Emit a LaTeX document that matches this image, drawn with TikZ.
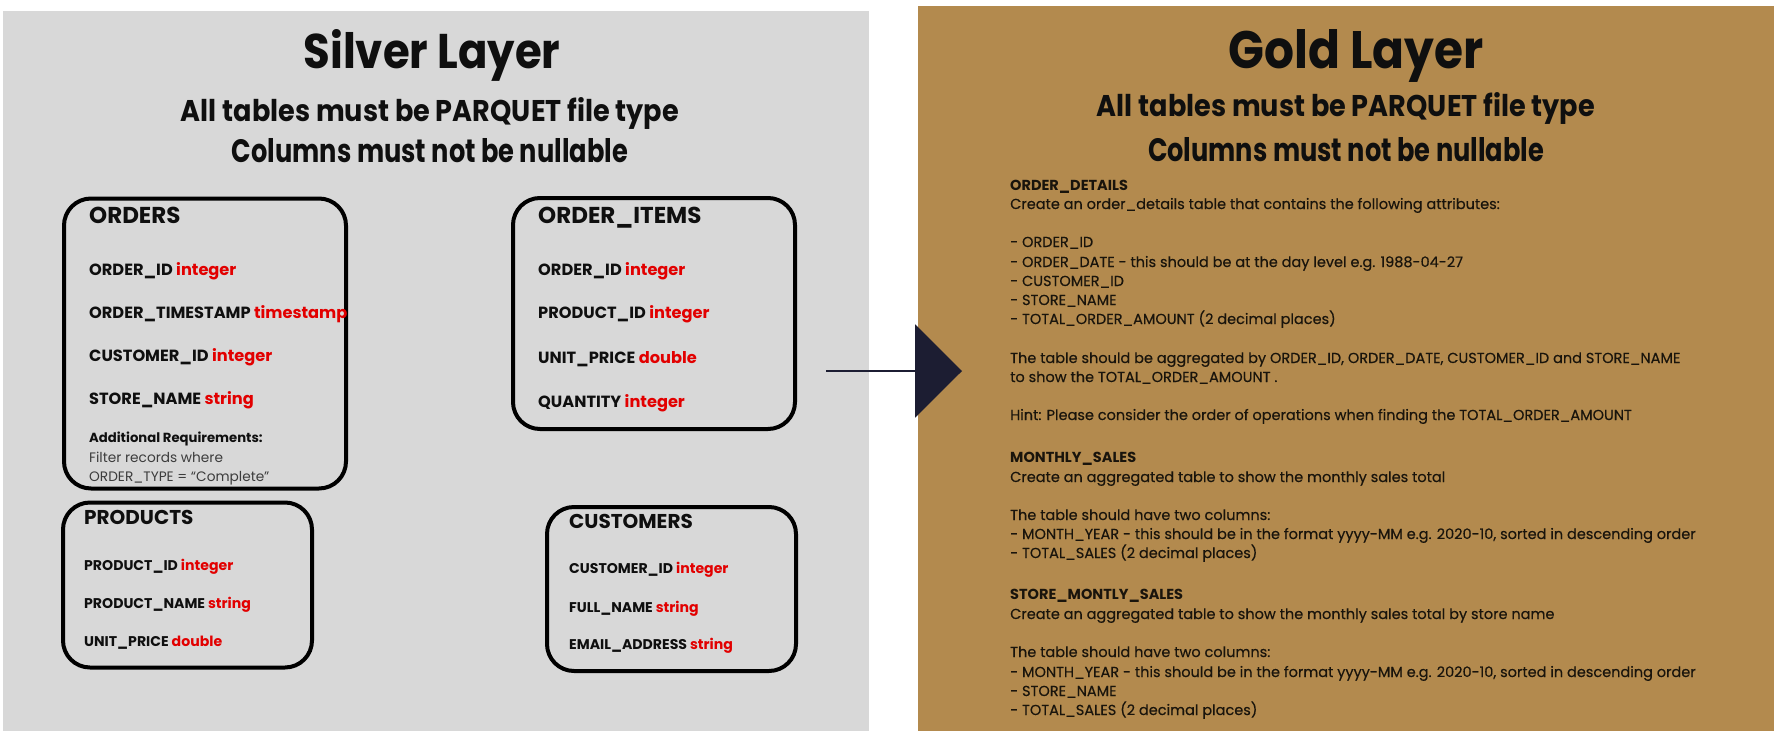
\documentclass[tikz,border=0pt]{standalone}
\usepackage{graphicx}
\usepackage{fontspec}
\setmainfont{Poppins}
\newfontfamily\gfont{Poppins}[FakeBold=0.35]
\usetikzlibrary{arrows.meta}
\definecolor{silverbg}{RGB}{216,216,216}
\definecolor{goldbg}{RGB}{179,138,78}
\definecolor{typered}{RGB}{226,0,0}
\definecolor{arrowblue}{RGB}{28,29,50}
\definecolor{ink}{RGB}{15,15,15}
\definecolor{noteink}{RGB}{60,60,60}
\definecolor{goldink}{RGB}{25,20,12}
\newcommand{\ty}[1]{\textcolor{typered}{#1}}
\begin{document}
\begin{tikzpicture}[x=1pt,y=-1pt,
  tbl/.style={draw=black,line width=4pt,rounded corners=27pt,inner sep=0pt},
  txt/.style={anchor=base west,inner sep=0pt,text=ink},
  thead/.style={txt,font=\bfseries\fontsize{23}{28}\selectfont},
  tfield/.style={txt,font=\bfseries\fontsize{16.2}{20}\selectfont},
  shead/.style={txt,font=\bfseries\fontsize{20}{24}\selectfont},
  sfield/.style={txt,font=\bfseries\fontsize{14.1}{18}\selectfont},
  notehead/.style={txt,font=\bfseries\fontsize{13.2}{17}\selectfont},
  note/.style={txt,text=noteink,font=\fontsize{13.7}{18}\selectfont},
  ghead/.style={txt,text=goldink,font=\bfseries\fontsize{14.5}{17}\selectfont},
  gtxt/.style={txt,text=goldink,font=\gfont\fontsize{14.5}{17}\selectfont},
  ttl/.style={anchor=base,inner sep=0pt,text=ink}]
\useasboundingbox (0,0) rectangle (1774,731);
\fill[white] (0,0) rectangle (1774,731);
% panels
\fill[silverbg] (3,11) rectangle (869,731);
\fill[goldbg] (918,6) rectangle (1774,731);
% silver titles
\node[ttl] (stitle) at (432,68) {\resizebox{257pt}{39pt}{\bfseries Silver Layer}};
\node[ttl] (ssub1) at (430,121) {\resizebox{498pt}{24pt}{\bfseries All tables must be PARQUET file type}};
\node[ttl] (ssub2) at (430,162) {\resizebox{396pt}{24pt}{\bfseries Columns must not be nullable}};
% gold titles
\node[ttl] (gtitle) at (1356,68) {\resizebox{255pt}{39pt}{\bfseries Gold Layer}};
\node[ttl] (gsub1) at (1346,116) {\resizebox{498pt}{24pt}{\bfseries All tables must be PARQUET file type}};
\node[ttl] (gsub2) at (1346,161) {\resizebox{396pt}{24pt}{\bfseries Columns must not be nullable}};
% table boxes
\node[tbl,minimum width=282pt,minimum height=290pt] (orders) at (205,343.5) {};
\node[tbl,minimum width=282pt,minimum height=231pt] (items) at (654,313.5) {};
\node[tbl,minimum width=249pt,minimum height=165pt] (products) at (187.5,585) {};
\node[tbl,minimum width=249pt,minimum height=164pt] (customers) at (671.5,589) {};
% ORDERS
\node[thead] (oh) at (89,223) {ORDERS};
\node[tfield] (o1) at (89,275) {ORDER\_ID \ty{integer}};
\node[tfield] (o2) at (89,318) {ORDER\_TIMESTAMP \ty{timestamp}};
\node[tfield] (o3) at (89,361) {CUSTOMER\_ID \ty{integer}};
\node[tfield] (o4) at (89,404) {STORE\_NAME \ty{string}};
\node[notehead] (o5) at (89,442) {Additional Requirements:};
\node[note] (o6) at (89,462) {Filter records where};
\node[note] (o7) at (89,481) {ORDER\_TYPE = “Complete”};
% ORDER_ITEMS
\node[thead] (ih) at (538,223) {ORDER\_ITEMS};
\node[tfield] (i1) at (538,275) {ORDER\_ID \ty{integer}};
\node[tfield] (i2) at (538,318) {PRODUCT\_ID \ty{integer}};
\node[tfield] (i3) at (538,363) {UNIT\_PRICE \ty{double}};
\node[tfield] (i4) at (538,407) {QUANTITY \ty{integer}};
% PRODUCTS
\node[shead] (ph) at (84,524) {PRODUCTS};
\node[sfield] (p1) at (84,570) {PRODUCT\_ID \ty{integer}};
\node[sfield] (p2) at (84,608) {PRODUCT\_NAME \ty{string}};
\node[sfield] (p3) at (84,646) {UNIT\_PRICE \ty{double}};
% CUSTOMERS
\node[shead] (ch) at (569,528) {CUSTOMERS};
\node[sfield] (c1) at (569,573) {CUSTOMER\_ID \ty{integer}};
\node[sfield] (c2) at (569,612) {FULL\_NAME \ty{string}};
\node[sfield] (c3) at (569,649) {EMAIL\_ADDRESS \ty{string}};
% arrow
\coordinate (astart) at (826,371);
\coordinate (atip) at (962,371);
\draw[arrowblue,line width=2.5pt,-{Triangle[length=47pt,width=93pt]}] (astart) -- (atip);
% gold text
\node[ghead] (g1) at (1010,190) {ORDER\_DETAILS};
\node[gtxt] (g2) at (1010,209) {Create an order\_details table that contains the following attributes:};
\node[gtxt] (g3) at (1010,247) {- ORDER\_ID};
\node[gtxt] (g4) at (1010,267) {- ORDER\_DATE - this should be at the day level e.g. 1988-04-27};
\node[gtxt] (g5) at (1010,286) {- CUSTOMER\_ID};
\node[gtxt] (g6) at (1010,305) {- STORE\_NAME};
\node[gtxt] (g7) at (1010,324) {- TOTAL\_ORDER\_AMOUNT (2 decimal places)};
\node[gtxt] (g8) at (1010,363) {The table should be aggregated by ORDER\_ID, ORDER\_DATE, CUSTOMER\_ID and STORE\_NAME};
\node[gtxt] (g9) at (1010,382) {to show the TOTAL\_ORDER\_AMOUNT .};
\node[gtxt] (g10) at (1010,420) {Hint: Please consider the order of operations when finding the TOTAL\_ORDER\_AMOUNT};
\node[ghead] (g11) at (1010,462) {MONTHLY\_SALES};
\node[gtxt] (g12) at (1010,482) {Create an aggregated table to show the monthly sales total};
\node[gtxt] (g13) at (1010,520) {The table should have two columns:};
\node[gtxt] (g14) at (1010,539) {- MONTH\_YEAR - this should be in the format yyyy-MM e.g. 2020-10, sorted in descending order};
\node[gtxt] (g15) at (1010,558) {- TOTAL\_SALES (2 decimal places)};
\node[ghead] (g16) at (1010,599) {STORE\_MONTLY\_SALES};
\node[gtxt] (g17) at (1010,619) {Create an aggregated table to show the monthly sales total by store name};
\node[gtxt] (g18) at (1010,657) {The table should have two columns:};
\node[gtxt] (g19) at (1010,677) {- MONTH\_YEAR - this should be in the format yyyy-MM e.g. 2020-10, sorted in descending order};
\node[gtxt] (g20) at (1010,696) {- STORE\_NAME};
\node[gtxt] (g21) at (1010,715) {- TOTAL\_SALES (2 decimal places)};
\end{tikzpicture}
\end{document}
